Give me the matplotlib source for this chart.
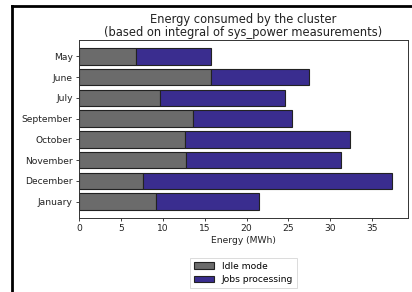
import matplotlib
matplotlib.use("Agg")
import matplotlib.pyplot as plt
from matplotlib.lines import Line2D

months = ["May", "June", "July", "September", "October", "November", "December", "January"]
idle = [6.8, 15.8, 9.7, 13.6, 12.6, 12.8, 7.6, 9.15]
jobs = [9.0, 11.6, 14.9, 11.8, 19.8, 18.5, 29.8, 12.3]

idle_color = "#6b6b6b"
jobs_color = "#3a2d8f"

fig = plt.figure(figsize=(4.12, 2.92), dpi=100)
ax = fig.add_axes([79/412, 1 - 218/292, (408-79)/412, (218-40)/292])

ypos = list(range(len(months)))[::-1]
ax.barh(ypos, idle, height=0.8, color=idle_color, edgecolor="#222222", linewidth=0.8, label="Idle mode")
ax.barh(ypos, jobs, left=idle, height=0.8, color=jobs_color, edgecolor="#222222", linewidth=0.8, label="Jobs processing")

ax.set_yticks(ypos)
ax.set_yticklabels(months)
ax.set_xticks([0, 5, 10, 15, 20, 25, 30, 35])
ax.tick_params(labelsize=6.6, length=2.5, width=0.6, pad=2, colors="#222222")
for s in ax.spines.values():
    s.set_linewidth(0.7)
    s.set_color("#333333")
ax.set_xlabel("Energy (MWh)", fontsize=6.6, labelpad=2, color="#222222")
ax.set_title("Energy consumed by the cluster\n(based on integral of sys_power measurements)",
             fontsize=8.3, linespacing=1.0, pad=3, color="#222222")

leg = ax.legend(loc="upper center", bbox_to_anchor=(0.5, -0.225), borderaxespad=0,
                fontsize=6.6, frameon=True, fancybox=False, handlelength=2.2)
leg.get_frame().set_edgecolor("#cccccc")
leg.get_frame().set_linewidth(0.6)

fig.add_artist(Line2D([12/412, 12/412], [0, 1 - 6/292], color="black", linewidth=2.0, transform=fig.transFigure))
fig.add_artist(Line2D([12/412, 1], [1 - 6/292, 1 - 6/292], color="black", linewidth=2.0, transform=fig.transFigure))

fig.savefig("out.png", dpi=100)
